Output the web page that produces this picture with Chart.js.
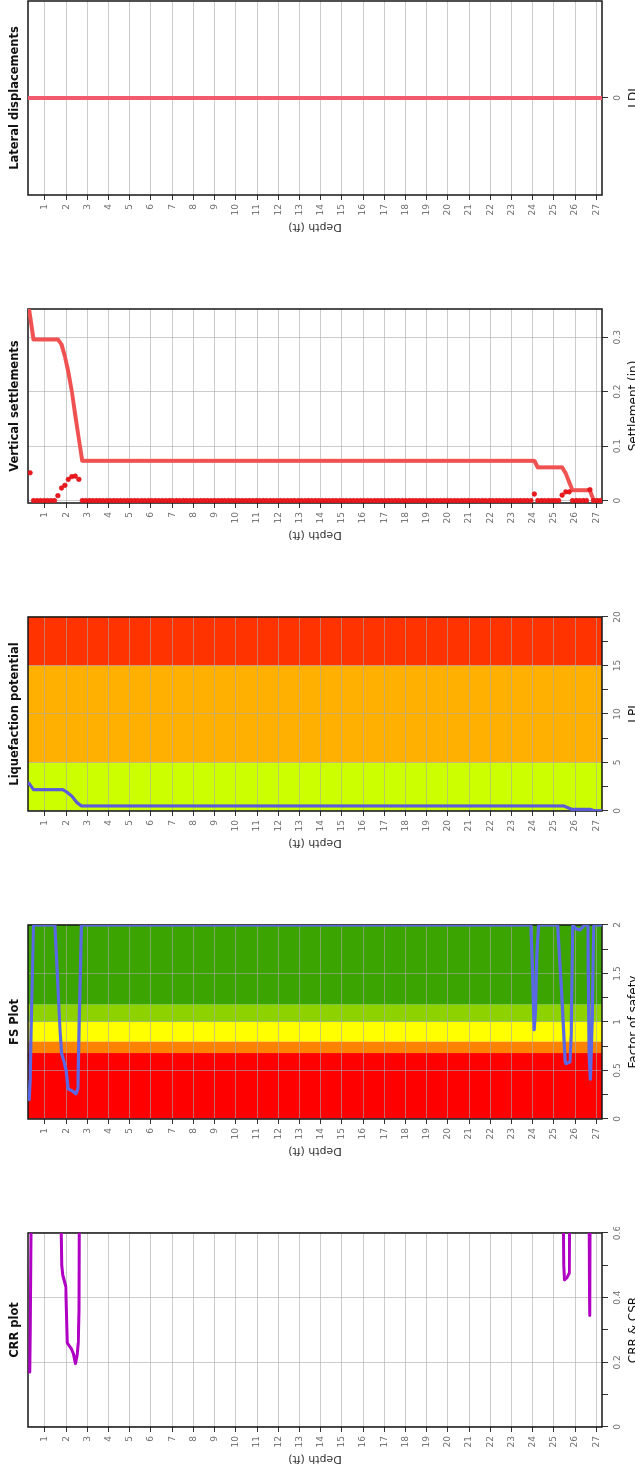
<!DOCTYPE html>
<html>
<head>
<meta charset="utf-8">
<script src="https://cdn.jsdelivr.net/npm/chart.js@4.4.1/dist/chart.umd.min.js"></script>
<style>
html,body{margin:0;padding:0;background:#fff;overflow:hidden;width:635px;height:1468px;}
#strip{position:absolute;left:0;top:0;width:1540px;height:660px;transform-origin:0 0;transform:translate(0px,1535px) rotate(-90deg);}
.cell{position:absolute;top:0;width:308px;height:660px;}
canvas{display:block;}
</style>
</head>
<body>
<div id="strip">
  <div class="cell" style="left:0px"><canvas id="cCRR" width="308" height="660"></canvas></div>
  <div class="cell" style="left:308px"><canvas id="cFS" width="308" height="660"></canvas></div>
  <div class="cell" style="left:616px"><canvas id="cLPI" width="308" height="660"></canvas></div>
  <div class="cell" style="left:924px"><canvas id="cSET" width="308" height="660"></canvas></div>
  <div class="cell" style="left:1232px"><canvas id="cLDI" width="308" height="660"></canvas></div>
</div>
<script>
// ---------------- DATA ----------------
const depthTicks = [1,2,3,4,5,6,7,8,9,10,11,12,13,14,15,16,17,18,19,20,21,22,23,24,25,26,27];

// CRR plot
const crrDepth = [0.28,0.31,0.345,0.40, 1.70,1.77,1.79,1.84,1.98,2.05,2.26,2.35,2.44,2.52,2.57,2.60,2.62,2.68,
                  25.40,25.46,25.47,25.50,25.62,25.72,25.74,25.80, 26.62,26.67,26.675,26.69,26.70,26.75, 27.27];
const crrValue = [0.17,0.30,0.6,2.0, 2.0,0.6,0.50,0.47,0.435,0.26,0.24,0.225,0.196,0.225,0.26,0.36,0.6,2.0,
                  2.0,0.6,0.50,0.455,0.462,0.475,0.6,2.0, 2.0,0.6,0.42,0.345,0.6,2.0, 2.0];
const crrTicks = [0,0.1,0.2,0.3,0.4,0.5,0.6];
const crrLabeled = [0,0.2,0.4,0.6];

// FS plot
const fsDepth = [0.26,0.30,0.35,0.40,0.46, 1.47,1.60,1.71,1.79,1.90,2.00,2.09,2.28,2.46,2.55,2.62,2.67,2.72,
                 23.92,24.00,24.07,24.13,24.20,24.28, 25.18,25.38,25.53,25.57,25.76,25.81,25.89,
                 26.05,26.24,26.45, 26.60,26.66,26.72,26.80,26.88,27.27];
const fsValue = [0.20,0.40,0.95,1.43,2.0, 2.0,1.43,0.92,0.67,0.59,0.50,0.31,0.29,0.26,0.31,1.09,1.5,2.0,
                 2.0,1.5,0.92,1.1,1.7,2.0, 2.0,1.26,0.60,0.57,0.59,0.85,2.0,
                 1.96,1.95,2.0, 2.0,0.67,0.41,1.0,2.0,2.0];
const fsTicks = [0,0.25,0.5,0.75,1,1.25,1.5,1.75,2];
const fsLabeled = [0,0.5,1,1.5,2];
const fsBandEdges = [0,0.68,0.8,1.0,1.18,2];
const fsBandColors = ['#ff0000','#ff8200','#ffff00','#8ed200','#3ca400'];

// Liquefaction potential
const lpiDepth = [0.25,0.46,1.84,2.03,2.28,2.51,2.72,25.47,25.66,25.85,26.71,26.90,27.27];
const lpiValue = [2.85,2.2,2.2,1.96,1.51,0.86,0.52,0.52,0.34,0.17,0.17,0.03,0.03];
const lpiTicks = [0,2.5,5,7.5,10,12.5,15,17.5,20];
const lpiLabeled = [0,5,10,15,20];
const lpiBandEdges = [0,5,15,20];
const lpiBandColors = ['#ccff00','#ffb000','#ff3300'];

// Vertical settlements: per-layer settlement (dots)
const setDepth = [
  0.30,0.46,0.63,0.79,0.96,1.12,1.28,1.45,1.61,1.78,
  1.94,2.10,2.27,2.43,2.60,2.76,2.92,3.09,3.25,3.42,
  3.58,3.74,3.91,4.07,4.24,4.40,4.56,4.73,4.89,5.06,
  5.22,5.38,5.55,5.71,5.88,6.04,6.20,6.37,6.53,6.70,
  6.86,7.02,7.19,7.35,7.52,7.68,7.84,8.01,8.17,8.34,
  8.50,8.66,8.83,8.99,9.16,9.32,9.48,9.65,9.81,9.98,
  10.14,10.30,10.47,10.63,10.80,10.96,11.12,11.29,11.45,11.62,
  11.78,11.94,12.11,12.27,12.44,12.60,12.76,12.93,13.09,13.26,
  13.42,13.58,13.75,13.91,14.08,14.24,14.40,14.57,14.73,14.90,
  15.06,15.22,15.39,15.55,15.72,15.88,16.04,16.21,16.37,16.54,
  16.70,16.86,17.03,17.19,17.36,17.52,17.68,17.85,18.01,18.18,
  18.34,18.50,18.67,18.83,19.00,19.16,19.32,19.49,19.65,19.82,
  19.98,20.14,20.31,20.47,20.64,20.80,20.96,21.13,21.29,21.46,
  21.62,21.78,21.95,22.11,22.28,22.44,22.60,22.77,22.93,23.10,
  23.26,23.42,23.59,23.75,23.92,24.08,24.24,24.41,24.57,24.74,
  24.90,25.06,25.23,25.39,25.56,25.72,25.88,26.05,26.21,26.38,
  26.54,26.70,26.87,27.03,27.20];
const setValue = [
  0.051,0,0,0,0,0,0,0,0.009,0.023,
  0.028,0.039,0.044,0.045,0.039,0,0,0,0,0,
  0,0,0,0,0,0,0,0,0,0,
  0,0,0,0,0,0,0,0,0,0,
  0,0,0,0,0,0,0,0,0,0,
  0,0,0,0,0,0,0,0,0,0,
  0,0,0,0,0,0,0,0,0,0,
  0,0,0,0,0,0,0,0,0,0,
  0,0,0,0,0,0,0,0,0,0,
  0,0,0,0,0,0,0,0,0,0,
  0,0,0,0,0,0,0,0,0,0,
  0,0,0,0,0,0,0,0,0,0,
  0,0,0,0,0,0,0,0,0,0,
  0,0,0,0,0,0,0,0,0,0,
  0,0,0,0,0,0.012,0,0,0,0,
  0,0,0,0.010,0.016,0.016,0,0,0,0,
  0,0.020,0,0,0];
// Vertical settlements: cumulative (line)
const setLineDepth = [0.26,0.46,1.61,1.78,1.94,2.10,2.27,2.43,2.60,2.76,24.08,24.24,25.39,25.56,25.72,25.88,26.70,26.87,27.27];
const setLineValue = [0.349,0.296,0.296,0.287,0.265,0.237,0.200,0.157,0.113,0.073,0.073,0.061,0.061,0.050,0.034,0.019,0.019,0.0,0.0];
const setTicks = [0,0.1,0.2,0.3];
const setLabeled = [0,0.1,0.2,0.3];

// Lateral displacements
const ldiDepth = [0.2,27.27];
const ldiValue = [0,0];
const ldiTicks = [0];
const ldiLabeled = [0];

// ---------------- RENDERING ----------------
Chart.defaults.font.family = "'DejaVu Sans', Verdana, sans-serif";
const GRID = 'rgba(170,170,170,0.6)';
const TICKC = '#333';

const bandsPlugin = {
  id: 'bands',
  beforeDraw(chart, args, opts) {
    if (!opts || !opts.edges) return;
    const {ctx, chartArea: a, scales: {x}} = chart;
    ctx.save();
    for (let i = 0; i < opts.colors.length; i++) {
      const x0 = x.getPixelForValue(opts.edges[i]);
      const x1 = x.getPixelForValue(opts.edges[i + 1]);
      ctx.fillStyle = opts.colors[i];
      ctx.fillRect(x0, a.top, x1 - x0, a.bottom - a.top);
    }
    ctx.restore();
  }
};
const framePlugin = {
  id: 'frame',
  beforeDatasetsDraw(chart) {
    const {ctx, chartArea: a} = chart;
    ctx.save();
    ctx.strokeStyle = '#161616';
    ctx.lineWidth = 1.5;
    ctx.strokeRect(a.left, a.top, a.right - a.left, a.bottom - a.top);
    ctx.restore();
  }
};

function pts(depths, values) { return depths.map((d, i) => ({x: values[i], y: d})); }
function lineDs(depths, values, color, width) {
  return {data: pts(depths, values), showLine: true, borderColor: color, backgroundColor: color,
          borderWidth: width, pointRadius: 0, tension: 0, borderJoinStyle: 'round', borderCapStyle: 'round'};
}

function makePanel(id, o) {
  return new Chart(document.getElementById(id), {
    type: 'scatter',
    data: {datasets: o.datasets},
    options: {
      responsive: false, animation: false, devicePixelRatio: 1,
      layout: {padding: {left: 0, right: 6, top: 0, bottom: 0}},
      plugins: {
        legend: {display: false},
        tooltip: {enabled: false},
        title: {display: true, text: o.title, fullSize: false, color: '#111',
                font: {size: 11.5, weight: 'bold'}, padding: {top: 8, bottom: 6.2}},
        bands: o.bands || {}
      },
      scales: {
        x: {
          type: 'linear', position: 'bottom', min: o.min, max: o.max,
          afterBuildTicks: s => { s.ticks = o.ticks.map(v => ({value: v})); },
          afterFit: s => { s.height = 58; s.paddingLeft = 0; s.paddingRight = 0; },
          ticks: {autoSkip: false, minRotation: 0, maxRotation: 0, padding: 4, color: '#707070',
                  font: {size: 9}, callback: v => (o.labeled.includes(v) ? String(v) : '')},
          grid: {color: c => (c.tick && o.labeled.includes(c.tick.value) ? GRID : 'rgba(0,0,0,0)'),
                 tickColor: TICKC, tickLength: 6, lineWidth: 1, drawTicks: true},
          border: {display: false},
          title: {display: true, text: o.xTitle, color: '#111', font: {size: 12},
                  padding: {top: 0, bottom: 19}}
        },
        y: {
          type: 'linear', position: 'left', reverse: true, min: 0.2, max: 27.27,
          afterBuildTicks: s => { s.ticks = depthTicks.map(v => ({value: v})); },
          afterFit: s => { s.width = 108; s.paddingTop = 0; s.paddingBottom = 0; },
          ticks: {autoSkip: false, padding: 4, color: '#707070', font: {size: 9}, callback: v => String(v)},
          grid: {color: GRID, tickColor: TICKC, tickLength: 5, lineWidth: 1},
          border: {display: false},
          title: {display: true, text: 'Depth (ft)', color: '#333', font: {size: 11},
                  padding: {top: 70, bottom: 0}}
        }
      }
    },
    plugins: [bandsPlugin, framePlugin]
  });
}

makePanel('cCRR', {
  title: 'CRR plot', xTitle: 'CRR & CSR', min: 0, max: 0.6, ticks: crrTicks, labeled: crrLabeled,
  datasets: [lineDs(crrDepth, crrValue, '#b000c4', 3)]
});
makePanel('cFS', {
  title: 'FS Plot', xTitle: 'Factor of safety', min: 0, max: 2, ticks: fsTicks, labeled: fsLabeled,
  bands: {edges: fsBandEdges, colors: fsBandColors},
  datasets: [lineDs(fsDepth, fsValue, '#5a68e6', 3.2)]
});
makePanel('cLPI', {
  title: 'Liquefaction potential', xTitle: 'LPI', min: 0, max: 20, ticks: lpiTicks, labeled: lpiLabeled,
  bands: {edges: lpiBandEdges, colors: lpiBandColors},
  datasets: [lineDs(lpiDepth, lpiValue, '#5c5cd8', 3.2)]
});
makePanel('cSET', {
  title: 'Vertical settlements', xTitle: 'Settlement (in)', min: -0.0045, max: 0.352, ticks: setTicks, labeled: setLabeled,
  datasets: [
    {data: pts(setDepth, setValue), showLine: false, pointRadius: 2.3, pointBackgroundColor: '#ea1a1f',
     pointBorderColor: '#d80f14', pointBorderWidth: 0.6},
    lineDs(setLineDepth, setLineValue, '#f05252', 4)
  ]
});
makePanel('cLDI', {
  title: 'Lateral displacements', xTitle: 'LDI', min: -1, max: 1, ticks: ldiTicks, labeled: ldiLabeled,
  datasets: [lineDs(ldiDepth, ldiValue, '#f25a6e', 4)]
});
</script>
</body>
</html>
